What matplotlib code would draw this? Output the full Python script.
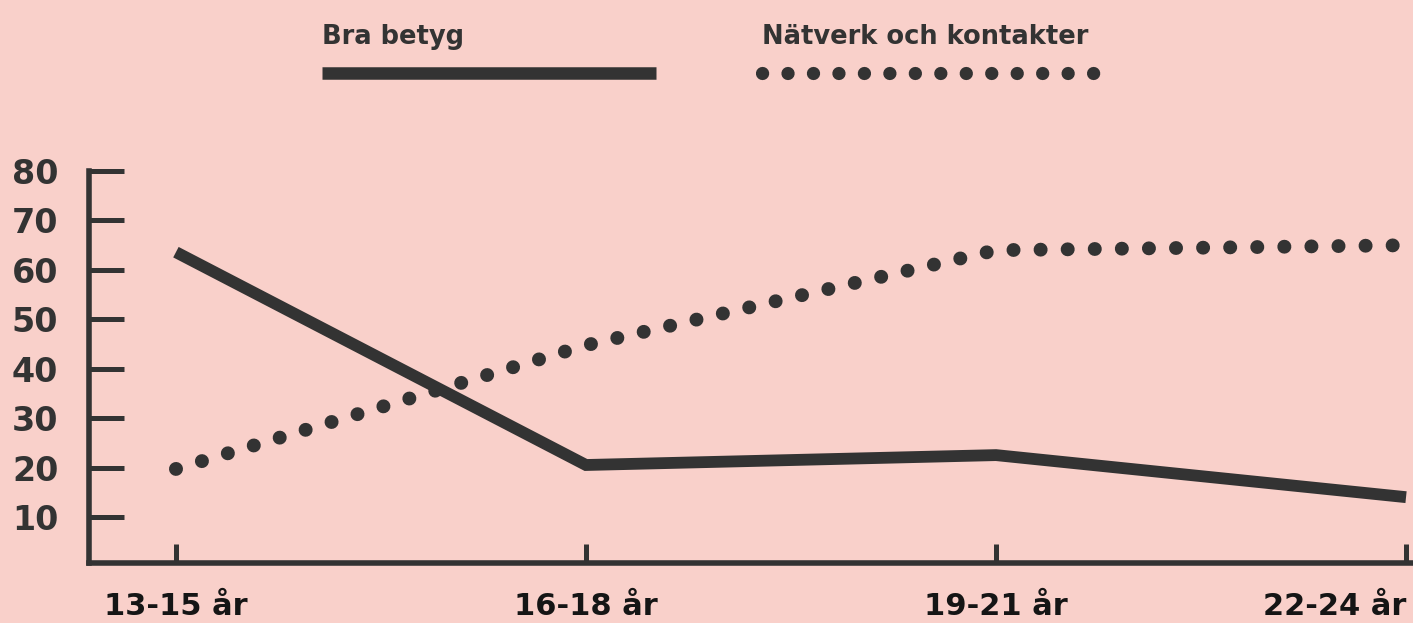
import matplotlib.pyplot as plt
from matplotlib.lines import Line2D

# data
age_groups = ['13-15 år', '16-18 år', '19-21 år', '22-24 år']
bra_betyg = [63.6, 20.6, 22.6, 14.1]
natverk = [19.8, 44.8, 64.0, 65.0]
y_ticks = [10, 20, 30, 40, 50, 60, 70, 80]

bg = '#f9d0ca'
ink = '#333333'
W, H, DPI = 1413, 623, 100

plt.rcParams['font.family'] = ['DejaVu Sans']

fig = plt.figure(figsize=(W / DPI, H / DPI), dpi=DPI, facecolor=bg)
ax = fig.add_axes([89 / W, (H - 563) / H, 1 - 89 / W, (563 - 171) / H])
ax.set_facecolor(bg)

x = list(range(len(age_groups)))
ax.plot(x, bra_betyg, color=ink, lw=8.5, solid_capstyle='butt',
        solid_joinstyle='miter', clip_on=False, zorder=3)
# tiny "on" length + round caps gives a row of dots
ax.plot(x, natverk, color=ink, lw=10, linestyle=(0, (0.01, 1.94)),
        dash_capstyle='round', clip_on=False, zorder=3)

ax.set_xlim(-0.212, 3.017)
ax.set_ylim(0.8, 80)

for s in ['top', 'right']:
    ax.spines[s].set_visible(False)
for s in ['left', 'bottom']:
    ax.spines[s].set_color(ink)
    ax.spines[s].set_linewidth(4)
    ax.spines[s].set_capstyle('projecting')

ax.set_yticks(y_ticks)
ax.set_yticklabels([str(v) for v in y_ticks])
ax.tick_params(axis='y', direction='in', length=25, width=3.6, color=ink,
               pad=55.5, labelsize=24, labelcolor=ink)
for lab in ax.get_yticklabels():
    lab.set_horizontalalignment('left')
    lab.set_fontweight('bold')

ax.set_xticks(x)
ax.set_xticklabels(age_groups)
ax.tick_params(axis='x', direction='in', length=14, width=3.6, color=ink,
               pad=21, labelsize=22, labelcolor='#151515')
for lab in ax.get_xticklabels():
    lab.set_fontweight('bold')
ax.get_xticklabels()[-1].set_horizontalalignment('right')


def fx(px):
    return px / W


def fy(py):
    return 1 - py / H


# legend above the plot
fig.text(fx(322), fy(44), 'Bra betyg', fontsize=18.5, fontweight='bold',
         color=ink, va='baseline', ha='left')
fig.text(fx(762), fy(44), 'Nätverk och kontakter', fontsize=18.5,
         fontweight='bold', color=ink, va='baseline', ha='left')
fig.add_artist(Line2D([fx(322), fx(656)], [fy(73), fy(73)], color=ink, lw=9,
                      solid_capstyle='butt', transform=fig.transFigure))
fig.add_artist(Line2D([fx(762), fx(1096)], [fy(73), fy(73)], color=ink, lw=9.5,
                      linestyle=(0, (0.01, 1.92)), dash_capstyle='round',
                      transform=fig.transFigure))

fig.savefig('out.png', dpi=DPI, facecolor=bg)
